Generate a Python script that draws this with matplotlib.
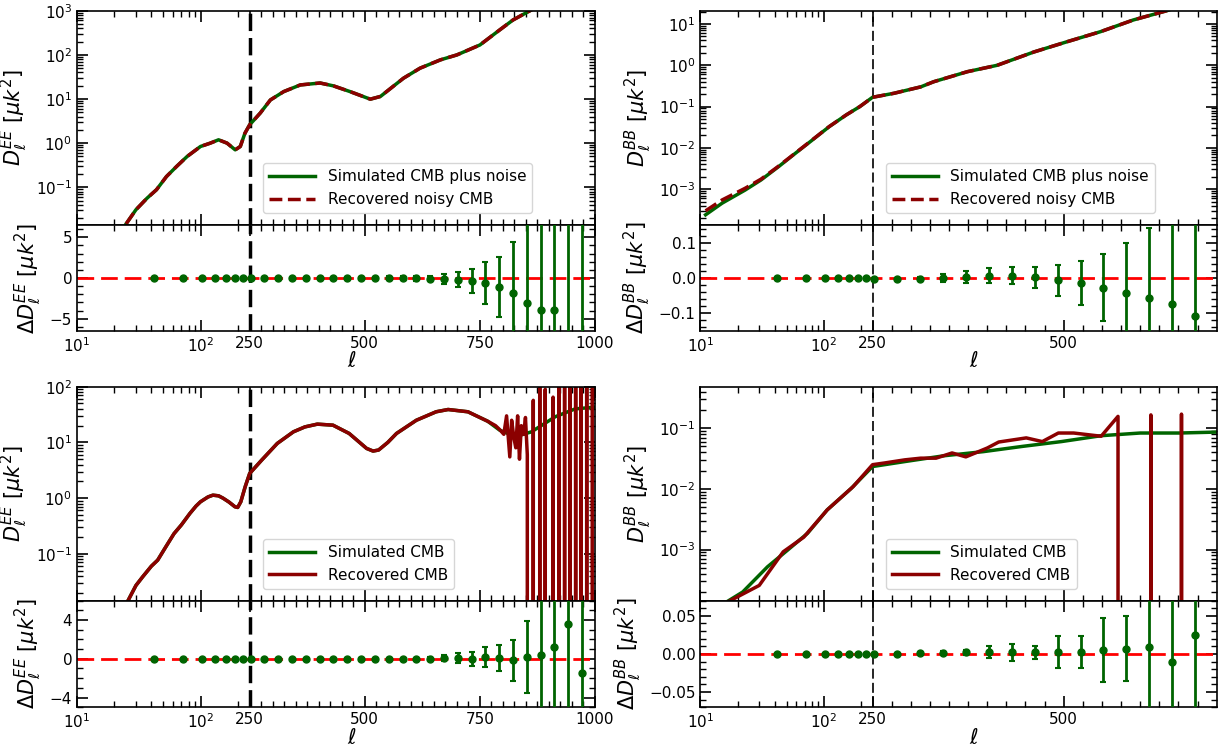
import numpy as np
import matplotlib
matplotlib.use("Agg")
import matplotlib.pyplot as plt
from matplotlib.ticker import FixedLocator, FixedFormatter, AutoMinorLocator

# ---- top-left: EE with noise ----
ell_ee_noisy = [25, 30, 37, 44, 53, 64, 78, 100, 120, 140, 164, 191, 210, 229, 250, 273, 295, 324,
                360, 403, 432, 468, 512, 534, 584, 620, 664, 700, 750, 793, 822, 859, 900]
dee_noisy_sim = [0.0149, 0.031, 0.057, 0.088, 0.175, 0.296, 0.50, 0.84, 1.0, 1.19, 1.0, 0.705, 0.84,
                 1.68, 2.6, 4.8, 9.5, 14.7, 20.8, 23.0, 19.8, 14.7, 9.9, 11.4, 29.5, 49.8, 76.7, 99.5,
                 167, 366, 616, 1000, 1800]
dee_noisy_rec = [0.0149, 0.031, 0.057, 0.088, 0.175, 0.296, 0.50, 0.84, 1.0, 1.19, 1.0, 0.705, 0.84,
                 1.68, 2.6, 4.8, 9.5, 14.7, 20.8, 23.0, 19.8, 14.7, 9.9, 11.4, 29.5, 49.8, 76.7, 99.5,
                 167, 366, 616, 1000, 1800]

# ---- top-right: BB with noise ----
ell_bb_noisy = [11, 15, 23, 31, 43, 59, 81, 111, 153, 197, 250, 278, 313, 330, 374, 413, 461, 504,
                548, 591, 635, 660]
dbb_noisy_sim = [2.4e-4, 4.6e-4, 9.5e-4, 1.67e-3, 3.5e-3, 7.4e-3, 0.0155, 0.0326, 0.063, 0.10, 0.168,
                 0.21, 0.30, 0.40, 0.70, 1.0, 2.1, 3.7, 6.5, 12.5, 21, 30]
dbb_noisy_rec = [3.0e-4, 5.5e-4, 1.05e-3, 1.75e-3, 3.6e-3, 7.5e-3, 0.0157, 0.0328, 0.063, 0.10, 0.168,
                 0.21, 0.30, 0.40, 0.70, 1.0, 2.1, 3.7, 6.5, 12.5, 21, 30]

# ---- bottom-left: EE CMB only ----
ell_ee_sim = [26, 30, 34, 40, 45, 52, 61, 70, 82, 92, 100, 115, 126, 140, 152, 170, 190, 200, 212,
              230, 250, 276, 310, 345, 370, 397, 431, 466, 504, 518, 530, 550, 569, 612, 655, 681,
              724, 767, 793, 828, 862, 914, 957, 1000]
dee_sim = [0.0147, 0.027, 0.0386, 0.06, 0.077, 0.13, 0.23, 0.33, 0.53, 0.72, 0.86, 1.05, 1.13, 1.1,
           1.0, 0.85, 0.70, 0.68, 0.86, 1.6, 2.77, 4.8, 9.6, 15.5, 19, 21.3, 20.4, 14.5, 7.8, 7.0,
           7.3, 10, 14.5, 25, 35.5, 39, 35.5, 24, 16.6, 12.7, 15.5, 29, 40, 43]
ell_ee_rec = [26, 30, 34, 40, 45, 52, 61, 70, 82, 92, 100, 115, 126, 140, 152, 170, 190, 200, 212,
              230, 250, 276, 310, 345, 370, 397, 431, 466, 504, 518, 530, 550, 569, 612, 655, 681,
              724, 767, 784, 793, 802, 808, 815, 819, 824, 828, 832, 836, 840, 845, 849, 853, 858,
              866, 871, 880, 886, 892, 901, 909, 916, 922, 928, 934, 940, 946, 952, 958, 964, 970,
              976, 982, 988, 994, 1000]
dee_rec = [0.0147, 0.027, 0.0386, 0.06, 0.077, 0.13, 0.23, 0.33, 0.53, 0.72, 0.86, 1.05, 1.13, 1.1,
           1.0, 0.85, 0.70, 0.68, 0.86, 1.6, 2.77, 4.8, 9.6, 15.5, 19, 21.3, 20.4, 14.5, 7.8, 7.0,
           7.3, 10, 14.5, 25, 35.5, 39, 35.5, 24, 20, 17, 14, 30, 5.5, 25, 12, 8, 30, 5, 20, 14, 28,
           6, -5, 57, -5, 120, -5, 90, -5, 65, -5, 150, -5, 130, -5, 200, -5, 110, -5, 160, -5, 140,
           -5, 180, 60]

# ---- bottom-right: BB CMB only ----
ell_bb_sim = [17, 22, 35, 51, 74, 107, 168, 250, 292, 343, 395, 446, 497, 549, 600, 651, 700]
dbb_sim = [1.45e-4, 2.0e-4, 5.2e-4, 9.8e-4, 1.85e-3, 4.5e-3, 0.0102, 0.0233, 0.0281, 0.035, 0.041,
           0.05, 0.06, 0.075, 0.083, 0.083, 0.086]
ell_bb_rec = [17, 21, 30, 47, 69, 107, 174, 250, 266, 292, 313, 333, 354, 372, 400, 415, 451, 472,
              493, 513, 549, 571, 574, 612, 614, 616, 652, 654, 656, 700]
dbb_rec = [1.4e-4, 1.76e-4, 2.57e-4, 9.2e-4, 1.6e-3, 4.5e-3, 0.0109, 0.025, 0.0267, 0.030, 0.032,
           0.032, 0.039, 0.0336, 0.047, 0.059, 0.069, 0.060, 0.083, 0.083, 0.0735, 0.156, -0.05,
           -0.05, 0.165, -0.05, -0.05, 0.17, -0.05, -0.05]

# ---- residual bins ----
ell_bins_ee = [42, 72, 102, 132, 162, 192, 222, 252, 282, 312, 342, 372, 402, 432, 462, 492, 522,
               552, 582, 612, 642, 672, 702, 732, 762, 792, 822, 852, 882, 912, 942, 972]
ell_bins_bb = [42, 72, 102, 132, 162, 192, 222, 252, 282, 312, 342, 372, 402, 432, 462, 492, 522,
               552, 582, 612, 642, 672]

res_ee_noisy = [0.02, 0.01, 0.0, 0.01, 0.0, 0.0, 0.01, 0.0, 0.0, 0.0, 0.0, 0.0, 0.0, 0.0, -0.01, 0.0,
                -0.02, 0.0, -0.03, -0.05, -0.07, -0.1, -0.2, -0.4, -0.6, -1.1, -1.8, -3.1, -3.9,
                -3.9, -9.0, -12.0]
err_ee_noisy = [0.01, 0.01, 0.01, 0.01, 0.01, 0.01, 0.02, 0.02, 0.03, 0.03, 0.04, 0.05, 0.06, 0.08,
                0.1, 0.12, 0.15, 0.2, 0.25, 0.3, 0.3, 0.6, 0.9, 1.5, 2.6, 3.7, 6.2, 10, 14, 20, 28, 40]

res_bb_noisy = [0.0, 0.0, 0.0, 0.0, 0.0, 0.0, 0.0, -0.003, -0.003, -0.002, 0.0, 0.003, 0.007, 0.006,
                0.002, -0.007, -0.015, -0.027, -0.042, -0.058, -0.074, -0.107]
err_bb_noisy = [0.0005, 0.0005, 0.0005, 0.0005, 0.0007, 0.001, 0.001, 0.0015, 0.002, 0.005, 0.012,
                0.016, 0.02, 0.024, 0.03, 0.043, 0.062, 0.094, 0.14, 0.2, 0.27, 0.35]

res_ee = [0.0, 0.0, 0.0, 0.0, 0.0, 0.0, 0.0, 0.0, 0.0, 0.0, 0.0, 0.0, 0.0, 0.0, 0.0, 0.0, 0.0, 0.0,
          0.0, 0.0, 0.0, 0.05, 0.07, 0.0, 0.17, 0.07, -0.17, 0.14, 0.34, 1.26, 3.6, -1.5]
err_ee = [0.01, 0.01, 0.01, 0.01, 0.01, 0.01, 0.01, 0.01, 0.01, 0.01, 0.02, 0.02, 0.03, 0.03, 0.04,
          0.05, 0.06, 0.08, 0.1, 0.12, 0.15, 0.3, 0.5, 0.7, 1.0, 1.3, 2.1, 3.7, 6.5, 9, 13, 18]

res_bb = [0.0, 0.0, 0.0, 0.0, 0.0, 0.0, 0.0, 0.0, 0.0, 0.001, 0.001, 0.002, 0.002, 0.002, 0.002,
          0.003, 0.003, 0.005, 0.007, 0.0096, -0.011, 0.0245]
err_bb = [0.0003, 0.0003, 0.0003, 0.0003, 0.0003, 0.0004, 0.0005, 0.0006, 0.0008, 0.001, 0.003,
          0.003, 0.008, 0.011, 0.009, 0.021, 0.021, 0.042, 0.043, 0.09, 0.12, 0.15]

GREEN = '#006400'
RED = '#8b0000'
plt.rcParams['font.family'] = 'DejaVu Sans'


def hybrid(xmax):
    # log axis from 10 to 250 on the first third, linear from 250 to xmax on the rest
    a = np.log10(25.0)

    def fwd(x):
        x = np.asarray(x, dtype=float)
        lg = (np.log10(np.clip(x, 1e-3, None)) - 1.0) / a / 3.0
        lin = 1.0 / 3.0 + (x - 250.0) / (xmax - 250.0) * 2.0 / 3.0
        return np.where(x < 250, lg, lin)

    def inv(y):
        y = np.asarray(y, dtype=float)
        lg = 10 ** (1.0 + np.clip(y, -5, 5) * 3.0 * a)
        lin = 250.0 + (y - 1.0 / 3.0) * 1.5 * (xmax - 250.0)
        return np.where(y < 1.0 / 3.0, lg, lin)
    return fwd, inv


def setup_x(ax, xmax, labels):
    ax.set_xscale('function', functions=hybrid(xmax))
    ax.set_xlim(10, xmax)
    if xmax >= 1000:
        major = [10, 100, 250, 500, 750, 1000]
        names = [r'$\mathdefault{10^{1}}$', r'$\mathdefault{10^{2}}$', '250', '500', '750', '1000']
    else:
        major = [10, 100, 250, 500]
        names = [r'$\mathdefault{10^{1}}$', r'$\mathdefault{10^{2}}$', '250', '500']
    minor = [20, 30, 40, 50, 60, 70, 80, 90, 200]
    minor += [v for v in range(275, xmax, 25) if v % 250 != 0]
    ax.xaxis.set_major_locator(FixedLocator(major))
    ax.xaxis.set_minor_locator(FixedLocator(minor))
    ax.xaxis.set_major_formatter(FixedFormatter(names))
    ax.tick_params(which='both', direction='in', top=True, right=True, labelsize=11,
                   labelbottom=labels)
    ax.tick_params(which='major', length=8, width=1.2)
    ax.tick_params(which='minor', length=4, width=1.0)
    for s in ax.spines.values():
        s.set_linewidth(1.2)
    if labels:
        ax.set_xlabel(r'$\ell$', fontsize=15)
        ax.xaxis.set_label_coords(0.53, -0.19)


fig = plt.figure(figsize=(12.24, 7.46), dpi=100)

L0, LW = 0.0629, 0.4232
R0, RW = 0.5723, 0.4217
pos = {
    'tl_main': [L0, 0.6984, LW, 0.2873], 'tl_res': [L0, 0.5563, LW, 0.1421],
    'bl_main': [L0, 0.1950, LW, 0.2866], 'bl_res': [L0, 0.0519, LW, 0.1431],
    'tr_main': [R0, 0.6984, RW, 0.2873], 'tr_res': [R0, 0.5563, RW, 0.1421],
    'br_main': [R0, 0.1950, RW, 0.2866], 'br_res': [R0, 0.0519, RW, 0.1431],
}

thick_v = dict(color='k', lw=2.5, ls=(0, (5, 2)), zorder=1)
thin_v = dict(color='k', lw=1.2, ls=(0, (6, 2.5)), zorder=1)
eb_kw = dict(fmt='o', color=GREEN, ms=5, elinewidth=2, capsize=2, capthick=1.5, zorder=3)
zero_kw = dict(color='r', lw=2, ls=(0, (6, 2.5)), zorder=2)
leg_kw = dict(loc='lower left', bbox_to_anchor=(0.345, 0.02), fontsize=11, handlelength=3)

# top-left
ax = fig.add_axes(pos['tl_main'])
ax.plot(ell_ee_noisy, dee_noisy_sim, color=GREEN, lw=2.5, label='Simulated CMB plus noise')
ax.plot(ell_ee_noisy, dee_noisy_rec, color=RED, lw=2.5, ls='--', label='Recovered noisy CMB')
ax.axvline(250, **thick_v)
ax.set_yscale('log')
ax.set_ylim(0.014, 1000)
setup_x(ax, 1000, False)
ax.set_ylabel(r'$D^{EE}_{\ell}\ [\mu k^2]$', fontsize=15)
ax.legend(**leg_kw)

ax = fig.add_axes(pos['tl_res'])
ax.axhline(0, **zero_kw)
ax.axvline(250, **thick_v)
ax.errorbar(ell_bins_ee, res_ee_noisy, yerr=err_ee_noisy, **eb_kw)
ax.set_ylim(-6.5, 6.5)
setup_x(ax, 1000, True)
ax.yaxis.set_minor_locator(AutoMinorLocator())
ax.set_ylabel(r'$\Delta D^{EE}_{\ell}\ [\mu k^2]$', fontsize=15)

# top-right
ax = fig.add_axes(pos['tr_main'])
ax.plot(ell_bb_noisy, dbb_noisy_sim, color=GREEN, lw=2.5, label='Simulated CMB plus noise')
ax.plot(ell_bb_noisy, dbb_noisy_rec, color=RED, lw=2.5, ls='--', label='Recovered noisy CMB')
ax.axvline(250, **thin_v)
ax.set_yscale('log')
ax.set_ylim(1.36e-4, 21)
setup_x(ax, 700, False)
ax.set_ylabel(r'$D^{BB}_{\ell}\ [\mu k^2]$', fontsize=15)
ax.legend(**leg_kw)

ax = fig.add_axes(pos['tr_res'])
ax.axhline(0, **zero_kw)
ax.axvline(250, **thin_v)
ax.errorbar(ell_bins_bb, res_bb_noisy, yerr=err_bb_noisy, **eb_kw)
ax.set_ylim(-0.15, 0.15)
setup_x(ax, 700, True)
ax.yaxis.set_minor_locator(AutoMinorLocator())
ax.set_ylabel(r'$\Delta D^{BB}_{\ell}\ [\mu k^2]$', fontsize=15)

# bottom-left
ax = fig.add_axes(pos['bl_main'])
ax.plot(ell_ee_sim, dee_sim, color=GREEN, lw=2.5, label='Simulated CMB')
ax.plot(ell_ee_rec, dee_rec, color=RED, lw=2.5, label='Recovered CMB')
ax.axvline(250, **thick_v)
ax.set_yscale('log')
ax.set_ylim(0.0145, 100)
setup_x(ax, 1000, False)
ax.set_ylabel(r'$D^{EE}_{\ell}\ [\mu k^2]$', fontsize=15)
ax.legend(**leg_kw)

ax = fig.add_axes(pos['bl_res'])
ax.axhline(0, **zero_kw)
ax.axvline(250, **thick_v)
ax.errorbar(ell_bins_ee, res_ee, yerr=err_ee, **eb_kw)
ax.set_ylim(-5, 6)
ax.set_yticks([-4, 0, 4])
setup_x(ax, 1000, True)
ax.yaxis.set_minor_locator(AutoMinorLocator(4))
ax.set_ylabel(r'$\Delta D^{EE}_{\ell}\ [\mu k^2]$', fontsize=15)

# bottom-right
ax = fig.add_axes(pos['br_main'])
ax.plot(ell_bb_sim, dbb_sim, color=GREEN, lw=2.5, label='Simulated CMB')
ax.plot(ell_bb_rec, dbb_rec, color=RED, lw=2.5, label='Recovered CMB')
ax.axvline(250, **thin_v)
ax.set_yscale('log')
ax.set_ylim(1.45e-4, 0.48)
setup_x(ax, 700, False)
ax.set_ylabel(r'$D^{BB}_{\ell}\ [\mu k^2]$', fontsize=15)
ax.legend(**leg_kw)

ax = fig.add_axes(pos['br_res'])
ax.axhline(0, **zero_kw)
ax.axvline(250, **thin_v)
ax.errorbar(ell_bins_bb, res_bb, yerr=err_bb, **eb_kw)
ax.set_ylim(-0.07, 0.07)
setup_x(ax, 700, True)
ax.yaxis.set_minor_locator(AutoMinorLocator())
ax.set_ylabel(r'$\Delta D^{BB}_{\ell}\ [\mu k^2]$', fontsize=15)

fig.savefig('out.png', dpi=100)
